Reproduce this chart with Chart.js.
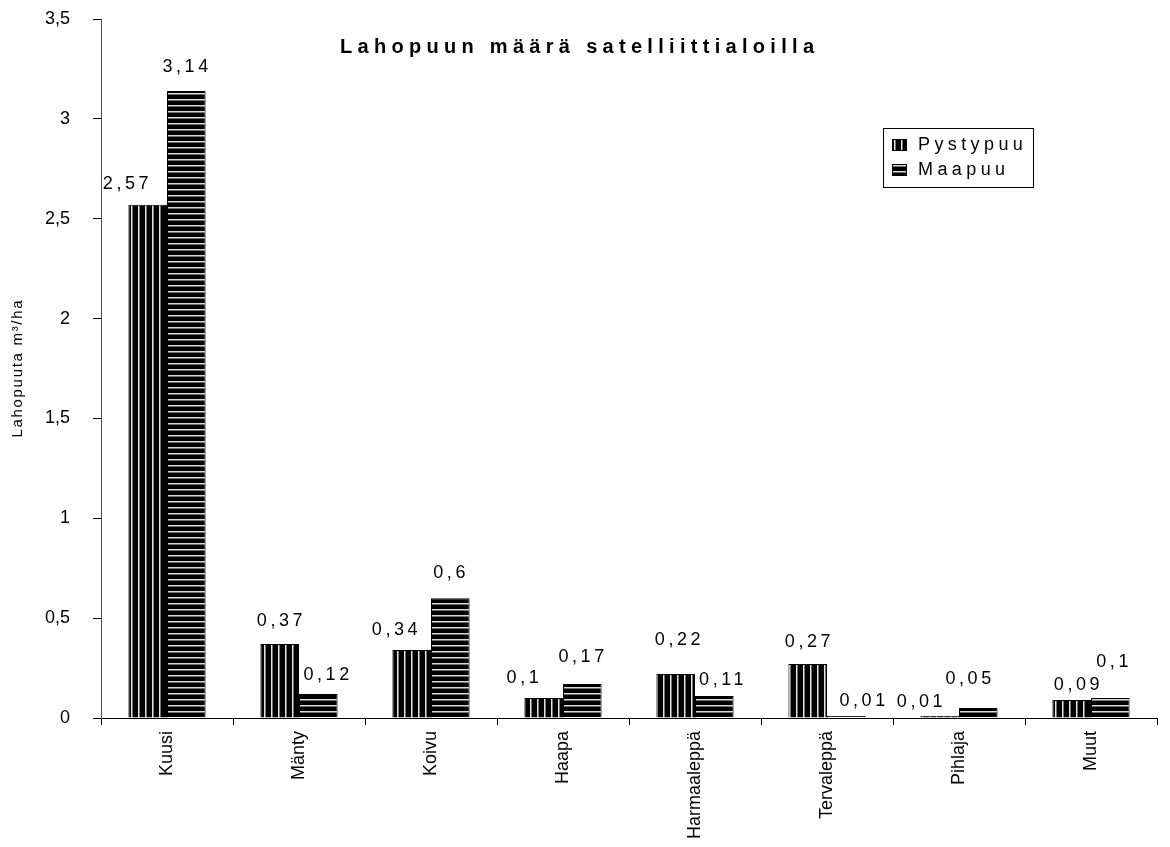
<!DOCTYPE html>
<html>
<head>
<meta charset="utf-8">
<script src="https://cdn.jsdelivr.net/npm/chart.js@4"></script>
<style>
  html, body { margin:0; padding:0; background:#fff; }
  #wrap { width:1170px; height:847px; }
</style>
</head>
<body>
<div id="wrap"><canvas id="kaavio" width="1170" height="847"></canvas></div>
<script>
// ===== Data =====
const lajit = ['Kuusi','Mänty','Koivu','Haapa','Harmaaleppä','Tervaleppä','Pihlaja','Muut'];
const pystypuu = [2.57, 0.37, 0.34, 0.1, 0.22, 0.27, 0.01, 0.09];
const maapuu   = [3.14, 0.12, 0.6, 0.17, 0.11, 0.01, 0.05, 0.1];
const otsikko = 'Lahopuun määrä satelliittialoilla';
const yOtsikko = 'Lahopuuta m³/ha';

// arvotekstien siirrot (dx vaakasuunnassa, nosto palkin yläreunasta)
const siirrotPysty = { dx:[-22, 0, -17, -21, 2, 0, -20, 5], nosto:[21, 23, 20, 20, 34, 22, 14, 15] };
const siirrotMaa   = { dx:[-1, 8, -1, -1, 7, 16, -10, 2],   nosto:[24, 19, 25, 27, 16, 15, 29, 36] };

const FONTTI = "'Liberation Sans', Arial, sans-serif";

// ===== Kuviot =====
function pystyRaidat(){
  const c = document.createElement('canvas'); c.width = 7; c.height = 4;
  const g = c.getContext('2d');
  g.fillStyle = '#000'; g.fillRect(0,0,7,4);
  g.fillStyle = '#e6e6e6'; g.fillRect(5,0,1.5,4);
  return g.createPattern(c, 'repeat');
}
function vaakaRaidat(){
  const c = document.createElement('canvas'); c.width = 4; c.height = 6;
  const g = c.getContext('2d');
  g.fillStyle = '#000'; g.fillRect(0,0,4,6);
  g.fillStyle = '#dcdcdc'; g.fillRect(0,3,4,1.5);
  return g.createPattern(c, 'repeat');
}
const kuvioPysty = pystyRaidat();
const kuvioMaa = vaakaRaidat();

// pilkku desimaalierottimena
const muotoile = v => String(Math.round(v*100)/100).replace('.', ',');

function tekstiHarva(ctx, txt, x, y, vali){
  ctx.letterSpacing = vali + 'px';
  const w = ctx.measureText(txt).width - vali;
  ctx.textAlign = 'left';
  ctx.fillText(txt, x - w/2, y);
  ctx.letterSpacing = '0px';
}

// ===== Otsikot, selite ja arvotekstit =====
const piirrokset = {
  id: 'piirrokset',
  afterDatasetsDraw(chart){
    const ctx = chart.ctx;
    ctx.save();
    ctx.fillStyle = '#000';
    ctx.textBaseline = 'middle';

    // arvot palkkien päälle
    ctx.font = '18px ' + FONTTI;
    [[0, pystypuu, siirrotPysty], [1, maapuu, siirrotMaa]].forEach(([i, arvot, s]) => {
      chart.getDatasetMeta(i).data.forEach((el, j) => {
        tekstiHarva(ctx, muotoile(arvot[j]), el.x + s.dx[j], el.y - s.nosto[j], 3.6);
      });
    });

    // otsikko
    ctx.font = 'bold 20px ' + FONTTI;
    tekstiHarva(ctx, otsikko, 577, 47, 5.3);

    // y-akselin otsikko pystyyn
    ctx.save();
    ctx.translate(18, 369);
    ctx.rotate(-Math.PI/2);
    ctx.font = '15px ' + FONTTI;
    tekstiHarva(ctx, yOtsikko, 0, 0, 1.7);
    ctx.restore();

    // selite
    const lx = 883, ly = 128, lw = 150, lh = 59;
    ctx.strokeStyle = '#000'; ctx.lineWidth = 1;
    ctx.strokeRect(lx + 0.5, ly + 0.5, lw, lh);
    const rivit = [[kuvioPysty, 'Pystypuu', 145], [kuvioMaa, 'Maapuu', 170]];
    ctx.font = '18px ' + FONTTI;
    rivit.forEach(([kuvio, nimi, y]) => {
      ctx.fillStyle = kuvio;
      ctx.fillRect(lx + 9, y - 6, 15, 12);
      ctx.strokeRect(lx + 9.5, y - 5.5, 14, 11);
      ctx.fillStyle = '#000';
      ctx.letterSpacing = '4.4px';
      ctx.textAlign = 'left';
      ctx.fillText(nimi, lx + 35, y);
      ctx.letterSpacing = '0px';
    });
    ctx.restore();
  }
};

const nollaaReunat = s => { s.paddingTop = 0; s.paddingBottom = 0; s.paddingLeft = 0; s.paddingRight = 0; };

new Chart(document.getElementById('kaavio'), {
  type: 'bar',
  data: {
    labels: lajit,
    datasets: [
      { label:'Pystypuu', data: pystypuu, backgroundColor: kuvioPysty, borderColor:'#000', borderWidth:1 },
      { label:'Maapuu',   data: maapuu,   backgroundColor: kuvioMaa,   borderColor:'#000', borderWidth:1 }
    ]
  },
  options: {
    responsive: false,
    animation: false,
    devicePixelRatio: 1,
    layout: { padding: { top:19, right:13, left:0, bottom:0 } },
    datasets: { bar: { categoryPercentage: 0.585, barPercentage: 1 } },
    plugins: { legend: { display:false }, tooltip: { enabled:false }, title: { display:false } },
    scales: {
      x: {
        afterFit: s => { s.height = 129; nollaaReunat(s); },
        grid: { display:true, drawOnChartArea:false, drawTicks:true, tickLength:7, color:'#000', offset:true },
        border: { color:'#000', width:1 },
        ticks: { color:'#000', font:{ family:FONTTI, size:18 }, minRotation:90, maxRotation:90, padding:6, autoSkip:false }
      },
      y: {
        min: 0, max: 3.5,
        afterFit: s => { s.width = 101; nollaaReunat(s); },
        grid: { display:true, drawOnChartArea:false, drawTicks:true, tickLength:8, color:'#000' },
        border: { color:'#555', width:1 },
        ticks: {
          stepSize: 0.5, color:'#000', padding: 23,
          font: { family:FONTTI, size:18 },
          callback: v => muotoile(v)
        }
      }
    }
  },
  plugins: [piirrokset]
});
</script>
</body>
</html>
